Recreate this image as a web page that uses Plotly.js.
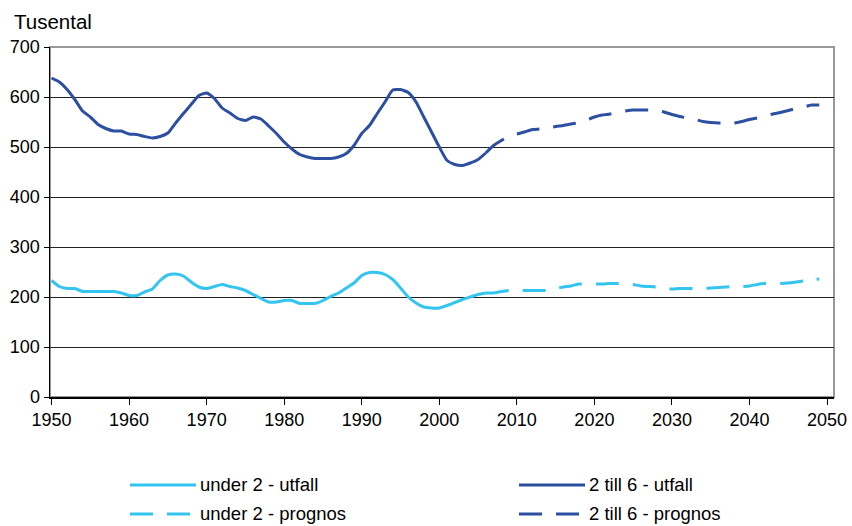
<!DOCTYPE html>
<html>
<head>
<meta charset="utf-8">
<script src="https://cdn.plot.ly/plotly-3.0.1.min.js"></script>
<style>html,body{margin:0;padding:0;background:#fff;}#chart{width:852px;height:526px;}</style>
</head>
<body>
<div id="chart"></div>
<script>
// ---- data (thousands) ----
const yearsUtfall = [];
for (let y = 1950; y <= 2006; y++) yearsUtfall.push(y);
const yearsPrognos = [];
for (let y = 2006; y <= 2049; y++) yearsPrognos.push(y);

const under2Utfall = [233,221,217,217,211,211,211,211,211,208,
  203,203,210,216,233,244,246,242,230,220,
  217,221,225,221,218,213,205,197,190,190,
  193,193,187,187,187,193,201,208,218,228,
  243,249,249,245,235,218,200,188,180,178,
  178,183,189,195,200,205,208];
const till6Utfall = [638,630,615,595,572,560,545,537,532,532,
  526,525,521,518,521,528,548,567,585,603,
  608,597,578,568,557,553,560,556,542,527,
  510,496,485,480,477,477,477,480,487,503,
  527,543,567,590,614,615,609,590,560,530,
  500,473,465,463,468,475,488];
const under2Prognos = [208,208,211,213,213,213,213,213,213,217,
  220,222,226,226,226,226,227,227,227,225,
  222,221,220,217,216,217,217,217,217,218,
  219,220,221,221,222,225,227,227,227,228,
  230,232,235,236];
const till6Prognos = [488,503,513,521,526,530,535,536,538,541,
  543,546,549,554,560,564,566,569,572,574,
  574,574,574,570,565,561,558,555,551,549,
  548,548,548,551,555,558,562,566,569,573,
  577,580,584,584];

const seriesNames = ["under 2 - utfall", "2 till 6 - utfall", "under 2 - prognos", "2 till 6 - prognos"];
const xTicks = [1950,1960,1970,1980,1990,2000,2010,2020,2030,2040,2050];
const yTicks = [0,100,200,300,400,500,600,700];

const cLight = "#33C4F0";
const cDark = "#2D4FA1";
const dashPat = "23px,14px";

const traces = [
  {x: yearsUtfall, y: under2Utfall, name: seriesNames[0], type: "scatter", mode: "lines",
   line: {color: cLight, width: 3, shape: "spline", smoothing: 0.5}},
  {x: yearsUtfall, y: till6Utfall, name: seriesNames[1], type: "scatter", mode: "lines",
   line: {color: cDark, width: 3, shape: "spline", smoothing: 0.5}},
  {x: yearsPrognos, y: under2Prognos, name: seriesNames[2], type: "scatter", mode: "lines",
   line: {color: cLight, width: 3, dash: dashPat, shape: "spline", smoothing: 0.5}},
  {x: yearsPrognos, y: till6Prognos, name: seriesNames[3], type: "scatter", mode: "lines",
   line: {color: cDark, width: 3, dash: dashPat, shape: "spline", smoothing: 0.5}}
];

// manual legend (pixel -> paper conversion)
const L = 50, R = 18, T = 47, B = 129, W = 852, H = 526;
const pw = W - L - R, ph = H - T - B;
const px = v => (v - L) / pw;
const py = v => (H - B - v) / ph;

const legendItems = [
  {name: seriesNames[0], color: cLight, dash: "solid", x0: 130, row: 485},
  {name: seriesNames[1], color: cDark, dash: "solid", x0: 519, row: 485},
  {name: seriesNames[2], color: cLight, dash: dashPat, x0: 130, row: 514},
  {name: seriesNames[3], color: cDark, dash: dashPat, x0: 519, row: 514}
];

const shapes = [
  {type: "rect", xref: "paper", yref: "paper", x0: 0, x1: 1, y0: 0, y1: 1,
   line: {color: "#999999", width: 2}, layer: "below"}
];
const annotations = [
  {text: "Tusental", xref: "paper", yref: "paper", x: px(12), y: py(21),
   xanchor: "left", yanchor: "middle", showarrow: false,
   font: {family: "Liberation Sans, Arial, sans-serif", size: 20.5, color: "#000"}}
];
legendItems.forEach(it => {
  shapes.push({type: "line", xref: "paper", yref: "paper",
    x0: px(it.x0), x1: px(it.x0 + 66), y0: py(it.row), y1: py(it.row),
    line: {color: it.color, width: 3, dash: it.dash}});
  annotations.push({text: it.name, xref: "paper", yref: "paper",
    x: px(it.x0 + 68), y: py(it.row - 1), xanchor: "left", yanchor: "middle",
    showarrow: false,
    font: {family: "Liberation Sans, Arial, sans-serif", size: 18.5, color: "#000"}});
});

const layout = {
  width: W, height: H,
  margin: {l: L, r: R, t: T, b: B, pad: 0},
  paper_bgcolor: "#fff", plot_bgcolor: "#fff",
  showlegend: false,
  font: {family: "Liberation Sans, Arial, sans-serif", size: 18, color: "#000"},
  xaxis: {
    range: [1949.8, 2050.9], tickvals: xTicks, ticktext: xTicks.map(String),
    ticks: "outside", ticklen: 6, tickcolor: "#000", tickwidth: 1,
    showline: true, linecolor: "#000", linewidth: 1.5,
    showgrid: false, zeroline: false,
    tickfont: {size: 18}
  },
  yaxis: {
    range: [0, 700], tickvals: yTicks, ticktext: yTicks.map(String),
    ticks: "outside", ticklen: 5, tickcolor: "#000", tickwidth: 1,
    showline: true, linecolor: "#000", linewidth: 1.5,
    showgrid: true, gridcolor: "#222", gridwidth: 1,
    zeroline: false,
    tickfont: {size: 18}
  },
  shapes: shapes,
  annotations: annotations
};

Plotly.newPlot("chart", traces, layout, {staticPlot: true, displayModeBar: false});
</script>
</body>
</html>
